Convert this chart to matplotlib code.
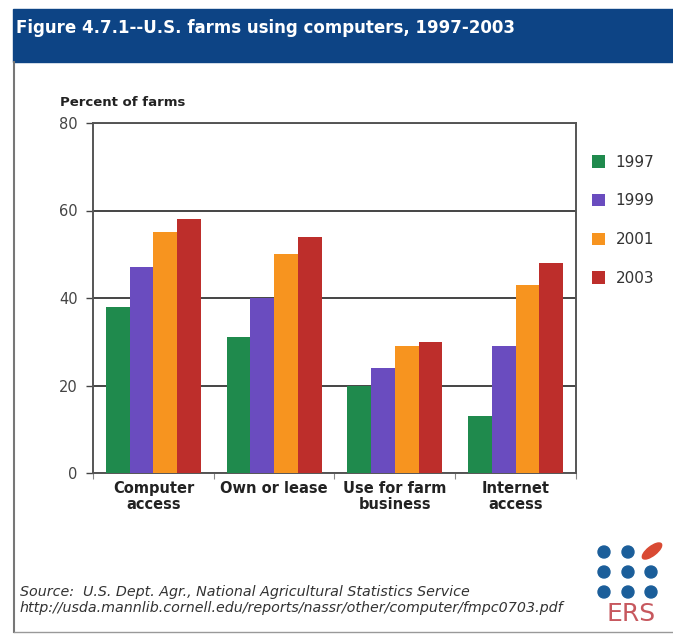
import matplotlib.pyplot as plt
import numpy as np
from matplotlib.patches import Rectangle, Ellipse

plt.rcParams['font.family'] = ['DejaVu Sans']

# data
categories = ['Computer\naccess', 'Own or lease', 'Use for farm\nbusiness', 'Internet\naccess']
years = ['1997', '1999', '2001', '2003']
v1997 = [38, 31, 20, 13]
v1999 = [47, 40, 24, 29]
v2001 = [55, 50, 29, 43]
v2003 = [58, 54, 30, 48]
colors = ['#1f8a4d', '#6a4cbf', '#f7941f', '#bd2e2b']

W, H = 673, 634
fig = plt.figure(figsize=(W / 100, H / 100), dpi=100)

def fx(px):
    return px / W

def fy(py):
    return 1 - py / H

# title band + frame
fig.patches.append(Rectangle((fx(13), fy(62)), 1 - fx(13), fy(9) - fy(62),
                             transform=fig.transFigure, color='#0d4485', zorder=0))
fig.text(fx(16), fy(28), 'Figure 4.7.1--U.S. farms using computers, 1997-2003',
         color='white', fontsize=12, fontweight='bold', va='center')
fig.add_artist(plt.Line2D([fx(14), fx(14)], [fy(62), fy(632)], color='#777777', lw=1.5))
fig.add_artist(plt.Line2D([fx(14), 1], [fy(632), fy(632)], color='#999999', lw=1))

ax = fig.add_axes([fx(93), fy(473), fx(576) - fx(93), fy(123) - fy(473)])
x = np.arange(len(categories)) + 0.5
width = 0.197
series = [v1997, v1999, v2001, v2003]
for k, vals in enumerate(series):
    ax.bar(x + (k - 1.5) * width, vals, width, color=colors[k], label=years[k], zorder=3)

ax.set_xlim(0, 4)
ax.set_ylim(0, 80)
ax.set_yticks([0, 20, 40, 60, 80])
ax.tick_params(axis='y', labelsize=10.5, colors='#444444', length=5, width=1, pad=6)
ax.set_xticks([0, 1, 2, 3, 4])
ax.set_xticklabels([])
ax.tick_params(axis='x', length=4, width=0.8, color='#888888')
ax.set_xticks(x, minor=True)
ax.set_xticklabels(categories, minor=True, fontsize=10.5, fontweight='bold',
                   color='#222222', linespacing=1.05)
ax.tick_params(axis='x', which='minor', length=0, pad=6)
ax.grid(axis='y', color='#444444', lw=1.4, zorder=0)
for s in ax.spines.values():
    s.set_color('#555555')
    s.set_linewidth(1.4)

fig.text(fx(60), fy(102), 'Percent of farms', fontsize=9.5, fontweight='bold',
         color='#222222', va='center')

fig.legend(loc='upper left', bbox_to_anchor=(fx(578), fy(141)), frameon=False,
           fontsize=11, handlelength=0.85, handleheight=0.85, labelspacing=1.55,
           handletextpad=0.7, labelcolor='#333333')

fig.text(fx(20), fy(592), 'Source:  U.S. Dept. Agr., National Agricultural Statistics Service',
         fontsize=10.3, style='italic', color='#333333', va='center')
fig.text(fx(20), fy(608), 'http://usda.mannlib.cornell.edu/reports/nassr/other/computer/fmpc0703.pdf',
         fontsize=10.3, style='italic', color='#333333', va='center')

# ERS logo
for r, yy in enumerate([552, 572, 592]):
    for c, xx in enumerate([604, 628, 651]):
        if r == 0 and c == 2:
            fig.add_artist(Ellipse((fx(652), fy(551)), fx(24), fy(0) - fy(9), angle=40,
                                   transform=fig.transFigure, color='#d94a33'))
            continue
        fig.add_artist(Ellipse((fx(xx), fy(yy)), fx(12), fy(0) - fy(12),
                               transform=fig.transFigure, color='#1b5e9a'))
fig.text(fx(631), fy(614), 'ERS', fontsize=18, color='#c7585e', ha='center', va='center')

fig.savefig('out.png', dpi=100)
